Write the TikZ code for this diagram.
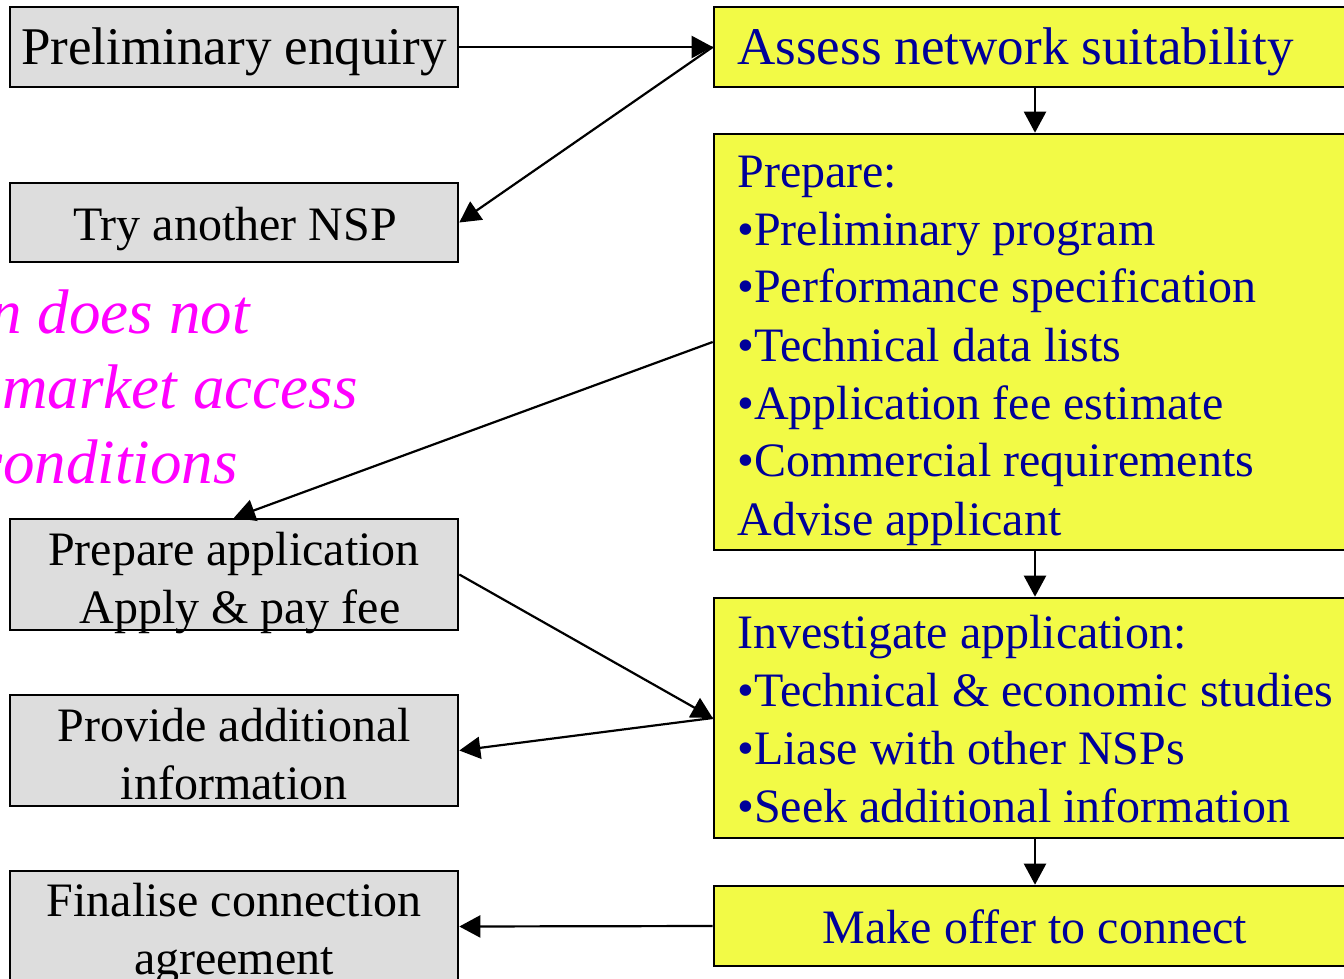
\documentclass[tikz,border=0pt]{standalone}
\usepackage{fontspec}
\setmainfont{Liberation Serif}
\usetikzlibrary{arrows.meta}
\definecolor{boxyellow}{RGB}{242,250,70}
\definecolor{boxgray}{RGB}{221,221,221}
\definecolor{textblue}{RGB}{0,0,153}
\definecolor{notemagenta}{RGB}{255,0,255}
\newcommand\diagfont{\fontsize{24}{29}\selectfont}
\newcommand\diagbigfont{\fontsize{26.5}{29}\selectfont}
\newcommand\notefont{\fontsize{31.5}{37.5}\selectfont\itshape}
\begin{document}
\begin{tikzpicture}[x=0.5pt,y=-0.5pt,
  graybox/.style={draw=black, line width=1.3pt, fill=boxgray, minimum width=224pt, minimum height=#1, inner sep=0pt},
  yelbox/.style={draw=black, line width=1.3pt, fill=boxyellow, minimum width=321pt, minimum height=#1, inner sep=0pt},
  blacktext/.style={inner sep=0pt, font=\diagfont, text=black},
  bluetext/.style={inner sep=0pt, font=\diagfont, text=textblue},
  notetext/.style={inner sep=0pt, font=\notefont, text=notemagenta, anchor=base east},
  arr/.style={line width=1.1pt, -{Triangle[length=10.5pt,width=11pt]}}]
\useasboundingbox (0,0) rectangle (1344,979);
\clip (0,0) rectangle (1344,979);
\fill[white] (0,0) rectangle (1344,979);

% note text (cropped at the left edge)
\node[notetext] (n1) at (250,333) {n does not};
\node[notetext] (n2) at (358,408) {market access};
\node[notetext] (n3) at (238,483) {conditions};

% left boxes
\node[graybox=40pt]   (prelim)  at (234,47)    {};
\node[graybox=39.5pt] (try)     at (234,222.5) {};
\node[graybox=55.5pt] (prepapp) at (234,574.5) {};
\node[graybox=55.5pt] (provide) at (234,750.5) {};
\node[graybox=55.5pt] (final)   at (234,926.5) {};

% right boxes
\node[yelbox=40pt]  (assess)  at (1035,47)  {};
\node[yelbox=208pt] (prepbox) at (1035,342) {};
\node[yelbox=120pt] (inv)     at (1035,718) {};
\node[yelbox=40pt]  (offer)   at (1035,926) {};

% texts of left boxes
\node[blacktext, font=\diagbigfont, anchor=base] (tprelim) at (234,65) {Preliminary enquiry};
\node[blacktext, anchor=base] (ttry) at (235,240) {Try another NSP};
\node[blacktext, anchor=base] (tprepapp) at (234,565)
  {\begin{tabular}[t]{@{}c@{}}Prepare application\\ \hspace{6pt}Apply \& pay fee\end{tabular}};
\node[blacktext, anchor=base] (tprovide) at (234,741)
  {\begin{tabular}[t]{@{}c@{}}Provide additional\\ information\end{tabular}};
\node[blacktext, anchor=base] (tfinal) at (234,916)
  {\begin{tabular}[t]{@{}c@{}}Finalise connection\\ agreement\end{tabular}};

% texts of right boxes
\node[bluetext, font=\diagbigfont, anchor=base west] (tassess) at (737,65) {Assess network suitability};
\node[bluetext, anchor=base west] (tprep) at (737,187)
  {\begin{tabular}[t]{@{}l@{}}Prepare:\\ •Preliminary program\\ •Performance specification\\ •Technical data lists\\ •Application fee estimate\\ •Commercial requirements\\ Advise applicant\end{tabular}};
\node[bluetext, anchor=base west] (tinv) at (737,648)
  {\begin{tabular}[t]{@{}l@{}}Investigate application:\\ •Technical \& economic studies\\ •Liase with other NSPs\\ •Seek additional information\end{tabular}};
\node[bluetext, anchor=base] (toffer) at (1035,943) {Make offer to connect};

% connectors
\draw[arr] (prelim.east) -- (assess.west);
\draw[arr] (assess.west) -- (try.east);
\draw[arr] (assess.south) -- (prepbox.north);
\draw[arr] (prepbox.west) -- (prepapp.north);
\draw[arr] (prepbox.south) -- (inv.north);
\draw[arr] (prepapp.east) -- (inv.west);
\draw[arr] (inv.west) -- (provide.east);
\draw[arr] (inv.south) -- (offer.north);
\draw[arr] (offer.west) -- (final.east);
\end{tikzpicture}
\end{document}
